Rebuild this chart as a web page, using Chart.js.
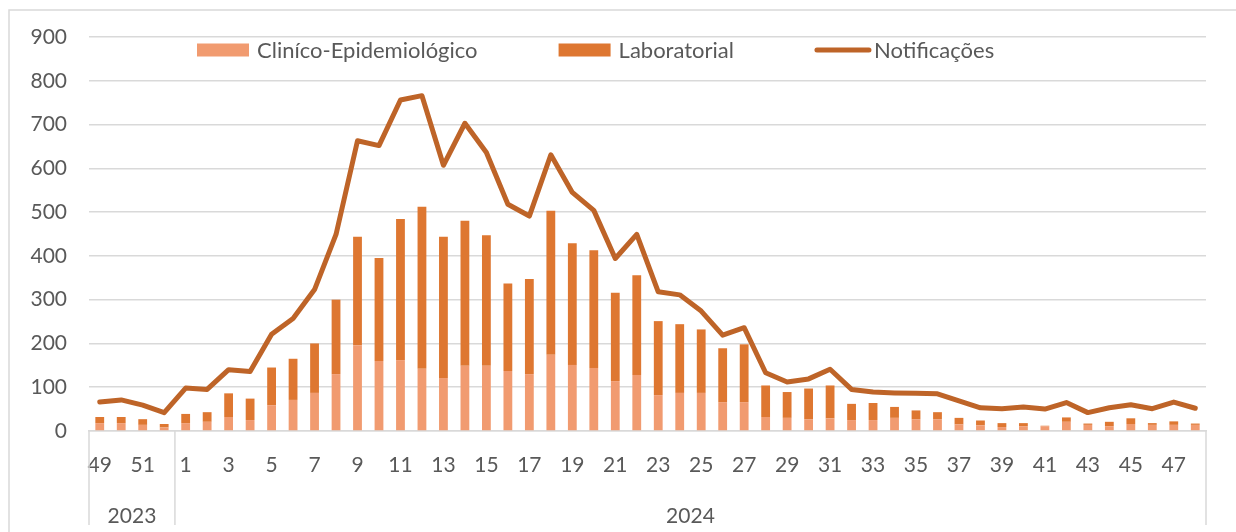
<!DOCTYPE html>
<html><head><meta charset="utf-8">
<script src="https://cdn.jsdelivr.net/npm/chart.js@4"></script>
<style>html,body{margin:0;padding:0;background:#fff}#wrap{width:1236px;height:532px}</style>
</head><body><div id="wrap"><canvas id="c" width="1236" height="532"></canvas></div>
<script>
const weekLabels = ['49','50','51','52','1','2','3','4','5','6','7','8','9','10','11','12','13','14','15','16','17','18','19','20','21','22','23','24','25','26','27','28','29','30','31','32','33','34','35','36','37','38','39','40','41','42','43','44','45','46','47','48'];
const yearLabels = ['2023','2024'];
const yearSpans = [4,48];
const clinico = [18,18,14,8, 18,21,32,25,59,71,87,130,196,160,162,142,121,149,149,137,130,174,151,144,114,128,82,87,87,66,66,32,30,27,29,25,25,30,27,27,15,13,9,11,11,21,14,11,16,14,14,14];
const laboratorial = [14,14,13,8, 21,22,54,49,86,94,113,170,248,235,322,370,323,331,298,200,217,329,278,269,202,228,169,157,145,123,132,72,59,70,75,37,39,25,20,16,15,11,9,7,1,10,3,10,13,4,8,3];
const notificacoes = [66,71,59,42, 98,95,140,136,221,257,323,449,663,652,756,766,607,703,636,518,491,631,545,504,394,449,318,311,274,219,236,133,112,119,141,95,89,87,86,85,69,53,51,55,50,65,42,53,60,51,66,52];
const seriesNames = ['Clin\u00edco-Epidemiol\u00f3gico','Laboratorial','Notifica\u00e7\u00f5es'];
const yMin = 0, yMax = 900, yStep = 100;

const FONT = 'Lato';
const TXT = '#595959';
const GRID = '#d9d9d9';

const framePlugin = {
  id: 'frame',
  beforeDraw(chart) {
    const ctx = chart.ctx;
    ctx.save();
    ctx.fillStyle = '#fff';
    ctx.fillRect(0, 0, chart.width, chart.height);
    ctx.strokeStyle = GRID;
    ctx.lineWidth = 1.5;
    ctx.beginPath();
    ctx.moveTo(9, chart.height);
    ctx.lineTo(9, 10);
    ctx.lineTo(chart.width, 10);
    ctx.stroke();
    ctx.restore();
  }
};

const yearPlugin = {
  id: 'years',
  afterDraw(chart) {
    const xs = chart.scales.x;
    const ctx = chart.ctx;
    const n = weekLabels.length;
    const cw = xs.width / n;
    ctx.save();
    ctx.strokeStyle = GRID;
    ctx.lineWidth = 1.5;
    ctx.fillStyle = TXT;
    ctx.font = '21px ' + FONT;
    ctx.textAlign = 'center';
    ctx.textBaseline = 'middle';
    let idx = 0;
    const bounds = [xs.getPixelForValue(0) - cw / 2];
    yearSpans.forEach((span, k) => {
      const x0 = xs.getPixelForValue(idx) - cw / 2;
      const x1 = xs.getPixelForValue(idx + span - 1) + cw / 2;
      bounds.push(x1);
      ctx.fillText(yearLabels[k], (x0 + x1) / 2, 516);
      idx += span;
    });
    bounds.forEach(b => {
      ctx.beginPath();
      ctx.moveTo(b, xs.top);
      ctx.lineTo(b, 525);
      ctx.stroke();
    });
    ctx.restore();
  }
};

const legendPlugin = {
  id: 'customLegend',
  afterDraw(chart) {
    const ctx = chart.ctx;
    const ds = chart.data.datasets;
    ctx.save();
    ctx.font = '22px ' + FONT;
    ctx.fillStyle = TXT;
    ctx.textBaseline = 'middle';
    ctx.textAlign = 'left';
    const cy = 50;
    let x = 197;
    ds.forEach((d, i) => {
      if (d.type === 'line') {
        ctx.strokeStyle = d.borderColor;
        ctx.lineWidth = d.borderWidth;
        ctx.lineCap = 'round';
        ctx.beginPath();
        ctx.moveTo(x + 2, cy);
        ctx.lineTo(x + 54, cy);
        ctx.stroke();
        x += 59;
      } else {
        ctx.fillStyle = d.backgroundColor;
        ctx.fillRect(x, cy - 6.5, 52, 13);
        x += 60;
      }
      ctx.fillStyle = TXT;
      ctx.fillText(d.label, x, cy + 1);
      x += ctx.measureText(d.label).width + 81;
    });
    ctx.restore();
  }
};

new Chart(document.getElementById('c'), {
  data: {
    labels: weekLabels,
    datasets: [
      { type: 'bar', label: seriesNames[0], data: clinico, backgroundColor: '#F19B70', order: 2, stack: 's' },
      { type: 'bar', label: seriesNames[1], data: laboratorial, backgroundColor: '#DE7731', order: 2, stack: 's' },
      { type: 'line', label: seriesNames[2], data: notificacoes, borderColor: '#BE6428', backgroundColor: '#BE6428', borderWidth: 5, pointRadius: 0, tension: 0, order: 1, stack: 'l', borderJoinStyle: 'round', borderCapStyle: 'round' }
    ]
  },
  options: {
    responsive: false,
    animation: false,
    devicePixelRatio: 1,
    layout: { padding: { top: 37, right: 30, left: 0, bottom: 0 } },
    datasets: { bar: { barPercentage: 0.41, categoryPercentage: 1 } },
    plugins: { legend: { display: false }, tooltip: { enabled: false } },
    scales: {
      x: {
        stacked: true,
        grid: { display: false, drawTicks: false },
        border: { display: true, color: GRID, width: 1.5 },
        ticks: {
          autoSkip: false, maxRotation: 0, minRotation: 0, padding: 22,
          color: TXT, font: { family: FONT, size: 21 },
          callback: (v, i) => (i % 2 === 0 ? weekLabels[i] : '')
        },
        afterFit: (axis) => { axis.height = 101; }
      },
      y: {
        stacked: true,
        min: yMin, max: yMax,
        grid: { color: GRID, lineWidth: 1.5, drawTicks: false },
        border: { display: false },
        ticks: { stepSize: yStep, padding: 22, color: TXT, font: { family: FONT, size: 21 } },
        afterFit: (axis) => { axis.width = 89; }
      }
    }
  },
  plugins: [framePlugin, yearPlugin, legendPlugin]
});
</script></body></html>
